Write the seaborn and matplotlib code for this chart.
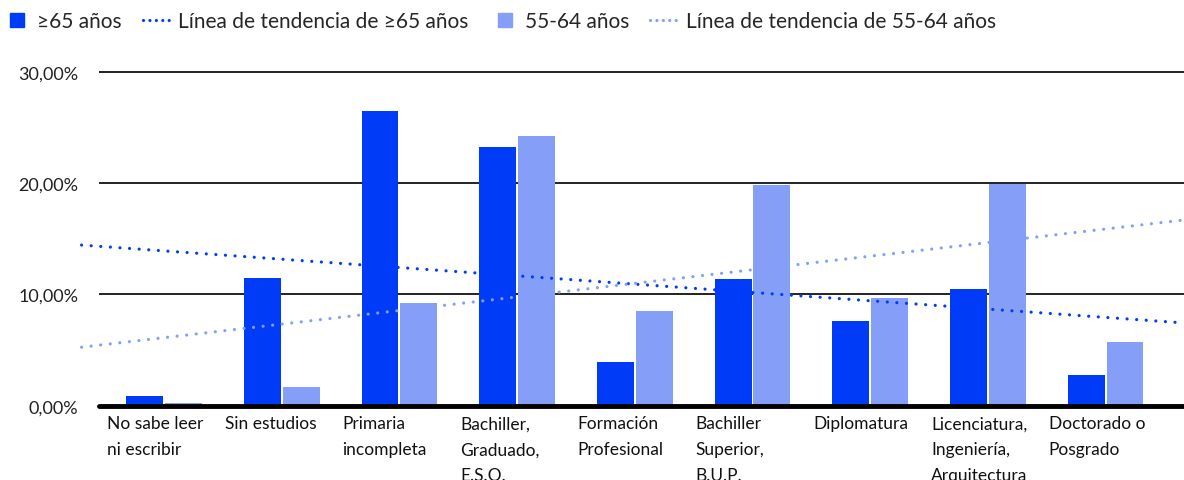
import numpy as np
import pandas as pd
import seaborn as sns
import matplotlib.pyplot as plt
import matplotlib.transforms as mtransforms
from matplotlib.lines import Line2D

# data (percent)
categories = ["No sabe leer\nni escribir", "Sin estudios", "Primaria\nincompleta",
              "Bachiller,\nGraduado,\nE.S.O.", "Formación\nProfesional",
              "Bachiller\nSuperior,\nB.U.P.", "Diplomatura",
              "Licenciatura,\nIngeniería,\nArquitectura", "Doctorado o\nPosgrado"]
over65 = [0.85, 11.5, 26.5, 23.2, 3.9, 11.4, 7.6, 10.5, 2.8]
age5564 = [0.2, 1.7, 9.2, 24.2, 8.5, 19.8, 9.7, 19.9, 5.7]
series_names = ["≥65 años", "55-64 años"]
yticks = [0, 10, 20, 30]

dark = "#003cf7"
light = "#859ff8"

df = pd.DataFrame({
    "cat": categories * 2,
    "val": over65 + age5564,
    "serie": [series_names[0]] * 9 + [series_names[1]] * 9,
})

sns.set_style("white")
plt.rcParams['font.family'] = ['Lato', 'DejaVu Sans']

fig = plt.figure(figsize=(11.84, 4.81), dpi=100)
ax = fig.add_axes([99 / 1184, 74.3 / 481, 1085 / 1184, 339.6 / 481])

sns.barplot(data=df, x="cat", y="val", hue="serie", order=categories,
            hue_order=series_names, palette={series_names[0]: dark, series_names[1]: light},
            saturation=1, width=0.66, gap=0.05, linewidth=0, legend=False, ax=ax, zorder=2)

# trend lines (linear fit over category index)
x = np.arange(len(categories))
xs = np.array([-0.7, 8.65])
for vals, col in [(over65, dark), (age5564, light)]:
    coef = np.polyfit(x, vals, 1)
    ax.plot(xs, np.polyval(coef, xs), color=col, lw=2.3,
            linestyle=(0, (0.01, 3.0)), dash_capstyle='round',
            clip_on=False, zorder=4)

ax.set_xlim(-0.552, 8.666)
ax.set_ylim(0, 30.5)
ax.set_yticks(yticks)
ax.set_yticklabels([f"{v:.2f}%".replace(".", ",") for v in yticks])
for v in yticks[1:]:
    ax.axhline(v, color="#222222", lw=1.4, zorder=1)
ax.axhline(0, color="black", lw=3.5, zorder=5, clip_on=False)
sns.despine(ax=ax, left=True, bottom=True)
ax.set(xlabel="", ylabel="")
ax.tick_params(axis="y", length=0, pad=15, labelsize=13, labelcolor="#222222")
ax.tick_params(axis="x", length=0, pad=7, labelsize=12.5, labelcolor="#111111")

offset = mtransforms.ScaledTranslation(-57 / 100, 0, fig.dpi_scale_trans)
for lab in ax.get_xticklabels():
    lab.set_horizontalalignment("left")
    lab.set_verticalalignment("top")
    lab.set_linespacing(1.75)
    lab.set_transform(lab.get_transform() + offset)

handles = [
    Line2D([], [], marker="s", color=dark, linestyle="none", markersize=10.5),
    Line2D([], [], color=dark, lw=2.3, linestyle=(0, (0.01, 2.0)), dash_capstyle='round'),
    Line2D([], [], marker="s", color=light, linestyle="none", markersize=10.5),
    Line2D([], [], color=light, lw=2.3, linestyle=(0, (0.01, 2.0)), dash_capstyle='round'),
]
labels = [series_names[0], "Línea de tendencia de ≥65 años",
          series_names[1], "Línea de tendencia de 55-64 años"]
fig.legend(handles, labels, loc="center left", bbox_to_anchor=(2 / 1184, 1 - 22 / 481), ncol=4,
           frameon=False, fontsize=15, handlelength=1.45, handletextpad=0.25,
           columnspacing=1.0, borderaxespad=0, borderpad=0)

fig.savefig("out.png", dpi=100)
